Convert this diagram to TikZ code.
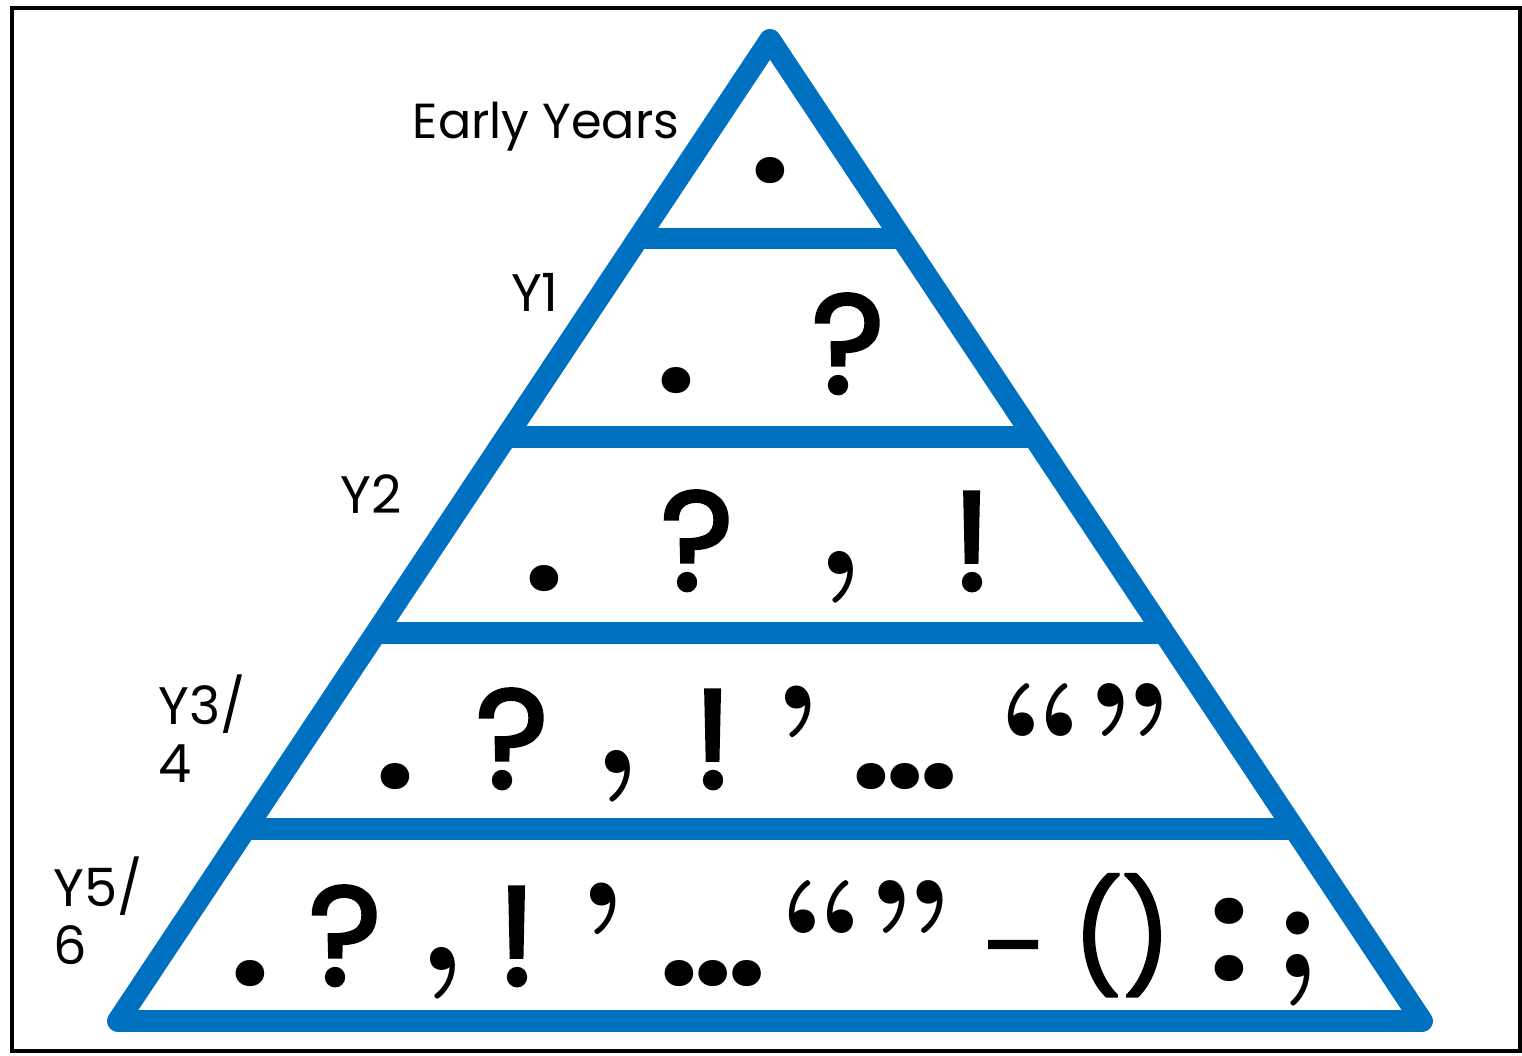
\documentclass[tikz,border=0pt]{standalone}
\usepackage{fontspec}
\setmainfont{Poppins}
\newfontfamily\curlfont{lmroman10-bold.otf}
\newfontfamily\punctfont{Poppins}[FakeBold=2.2]
\usetikzlibrary{calc}
\definecolor{pyramidblue}{RGB}{0,112,192}
\begin{document}
\begin{tikzpicture}[x=0.01cm,y=-0.01cm,
    band/.style={pyramidblue,line width=6.2pt,line join=round},
    punct/.style={anchor=base,inner sep=0pt,font=\fontsize{40}{40}\punctfont},
    dots/.style={anchor=base,inner sep=0pt,font=\fontsize{40}{40}\selectfont\bfseries},
    curl/.style={anchor=base,inner sep=0pt,font=\fontsize{42}{42}\curlfont},
    tail/.style={curl,yshift=0.15cm},
    semi/.style={curl,yshift=0.08cm},
    quotes/.style={curl,font=\fontsize{43}{43}\curlfont},
    paren/.style={punct,font=\fontsize{31}{31}\punctfont},
    dashmark/.style={punct,font=\fontsize{26}{26}\punctfont},
    yearlabel/.style={align=left,inner sep=0pt,font=\fontsize{15}{16.5}\selectfont}]
    \useasboundingbox (0,0) rectangle (1522,1055);
    \draw[line width=1.2pt] (12,8) rectangle (1520,1051);
    % pyramid
    \coordinate (apex) at (770,40);
    \coordinate (bl) at (118,1021);
    \coordinate (br) at (1422,1021);
    \draw[band] (apex) -- (br) -- (bl) -- cycle;
    \foreach \f in {0.2024,0.4045,0.6047,0.8039}{
        \draw[band] ($(apex)!\f!(bl)$) -- ($(apex)!\f!(br)$);
    }
    % year labels
    \node[yearlabel,font=\fontsize{14}{16}\selectfont] (ey) at (546,127) {Early Years};
    \node[yearlabel] (y1) at (535,292) {Y1};
    \node[yearlabel] (y2) at (371,494) {Y2};
    \node[yearlabel,anchor=west] (y34) at (158,729) {Y3/\\4};
    \node[yearlabel,anchor=west] (y56) at (53,911) {Y5/\\6};
    % punctuation
    \foreach \g/\x/\y/\s [count=\i] in {
        {.}/770/183/dots,
        {.}/676/393/dots, {?}/848/393/punct,
        {.}/544/590/dots, {?}/697/590/punct, {,}/840/590/tail, {!}/972/590/punct,
        {.}/395/788/dots, {?}/512/788/punct, {,}/617/788/tail, {!}/713/788/punct,
        {’}/797/788/curl, {…}/905/788/dots, {“”}/1085/788/quotes,
        {.}/250/985/dots, {?}/345/985/punct, {,}/442/985/tail, {!}/517/985/punct,
        {’}/602/985/curl, {…}/713/985/dots, {“”}/866/985/quotes,
        {–}/1013/978/dashmark, {()}/1122/976/paren, {:}/1229/980/dots, {;}/1298/985/semi}{
        \node[\s] (p\i) at (\x,\y) {\g};
    }
\end{tikzpicture}
\end{document}
